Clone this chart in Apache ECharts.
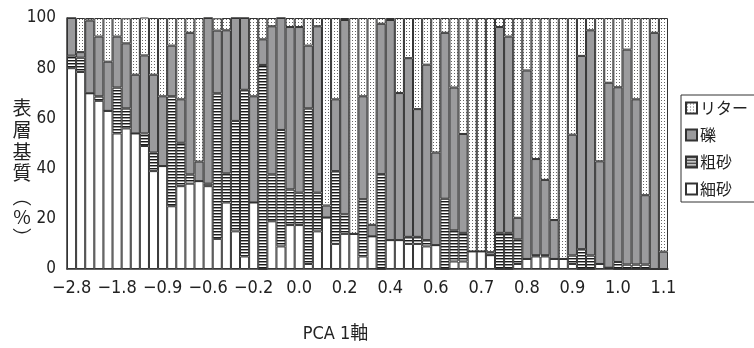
<!DOCTYPE html>
<html>
<head>
<meta charset="utf-8">
<script src="https://cdn.jsdelivr.net/npm/echarts@6/dist/echarts.min.js"></script>
<style>
html,body{margin:0;padding:0;background:#fff;}
#chart{width:754px;height:348px;}
</style>
</head>
<body>
<div id="chart"></div>
<script>
// tick labels shown every 5th sample (PCA axis 1 score)
const tickLabels = ['\u22122.8','\u22121.8','\u22120.9','\u22120.6','\u22120.2','0.0','0.2','0.4','0.6','0.7','0.8','0.9','1.0','1.1'];
const tickStep = 5;

// 細砂 (fine sand, %)
const fineSand = [80,78.5,70,67,63,54,56,54,49,39,41,25,33,34,35,33,12,26.5,15,5,
  26.5,0,19,9,17.5,17.5,2,15,20.5,10,14,14,5,13,0,11.5,11.5,10,10,9,
  9.5,0,3,3,7,7,5.5,0,0,2,4,5,5,4,4,2,0,0,2,0.5,
  0,0,0,0,0,0];
// 粗砂 (coarse sand, %)
const coarseSand = [5,5.7,0,1.8,0,18.3,8,0,5,7.4,0,43.8,17.3,3.7,0,1,58,11.6,44,66.4,
  0,81.3,18.7,46.4,14.2,12.9,62,15.4,0,29,7.8,0,22.8,0,37.8,0,0,2.8,2.8,2.5,
  0,28,12.4,11.4,0,0,0,14.4,14.4,9.8,0,0.5,0.5,0,0,3.4,7.9,5.4,0,0,
  2.8,1.8,1.8,1.8,0,0];
// 礫 (gravel, %)
const gravel = [15,2.2,29,23.8,19.6,20.3,25.9,23.4,31.1,31,27.8,20.2,17.3,56.4,7.8,66,25,57,41,28.6,
  42.3,10.2,59,44.6,64.7,66,25,66.3,4.8,28.6,77.4,0,41,4.6,59.9,87.7,58.6,71.2,50.9,69.9,
  36.9,66.1,56.9,39.4,0,0,1.2,82,78.2,8.6,75.1,38.3,30,15.5,0,48.1,77,89.7,40.9,73.7,
  69.6,85.6,65.8,27.6,94.1,6.9];
// リター (litter, %)
const litter = [0,13.6,1,7.4,17.4,7.4,10,22.6,15.1,22.6,31.2,11,32.4,5.9,57.2,0,4.9,4.9,0,0,
  31.2,8.5,3.3,0,3.6,3.6,11,3.3,74.7,32.4,0.8,86,31.2,82.4,2.3,0.8,29.9,16,36.3,18.6,
  53.6,5.9,27.7,46.2,93,93,93.3,3.6,7.4,79.6,20.9,56.2,64.5,80.5,96,46.5,15.1,4.9,57.1,25.8,
  27.6,12.6,32.4,70.6,5.9,93.1];

const samples = fineSand.map((_, i) => String(i + 1));

function pattern(kind) {
  const c = document.createElement('canvas');
  const ctx = c.getContext('2d');
  if (kind === 'hatch') {
    c.width = 4; c.height = 3;
    ctx.fillStyle = '#fff'; ctx.fillRect(0, 0, 4, 3);
    ctx.fillStyle = '#1a1a1a'; ctx.fillRect(0, 0, 4, 1);
    ctx.fillStyle = '#999'; ctx.fillRect(0, 1, 4, 1);
  } else {
    c.width = 3; c.height = 3;
    ctx.fillStyle = '#fff'; ctx.fillRect(0, 0, 3, 3);
    ctx.fillStyle = '#666'; ctx.fillRect(1, 1, 1, 1);
  }
  return { image: c, repeat: 'repeat' };
}

const border = { borderColor: '#333', borderWidth: 1 };
const mk = (name, data, color) => ({
  name, type: 'bar', stack: 'all', data,
  barCategoryGap: '0%',
  itemStyle: Object.assign({ color }, border),
  emphasis: { disabled: true }
});

const condensed = '"Liberation Sans Narrow", "DejaVu Sans Condensed", sans-serif';
const chart = echarts.init(document.getElementById('chart'), null, { renderer: 'canvas' });
const yTitle = [['表',108],['層',130],['基',152],['質',173],['︵',197],['%',217],['︶',238]];
chart.setOption({
  animation: false,
  backgroundColor: '#fff',
  grid: { left: 67, right: 86, top: 18, bottom: 70 },
  legend: {
    orient: 'vertical', left: 681, top: 95,
    data: ['リター', '礫', '粗砂', '細砂'],
    icon: 'rect', itemWidth: 11, itemHeight: 11, itemGap: 11,
    borderColor: '#333', borderWidth: 1, borderRadius: 0,
    padding: [5, 10, 5, 4],
    textStyle: { fontSize: 16, color: '#222', fontFamily: '"Noto Sans CJK JP", sans-serif', padding: [0, 0, 0, -2] }
  },
  xAxis: {
    type: 'category', data: samples,
    name: 'PCA 1軸', nameLocation: 'middle', nameGap: 56,
    nameTextStyle: { fontSize: 18, color: '#222', fontFamily: '"DejaVu Sans Condensed", "Noto Sans CJK JP", sans-serif', padding: [0, 64, 0, 0] },
    axisLine: { lineStyle: { color: '#333', width: 1.5 } },
    axisTick: { show: false },
    axisLabel: {
      interval: tickStep - 1, margin: 10, fontSize: 18, color: '#222',
      fontFamily: condensed,
      formatter: (v, i) => tickLabels[Math.round(i / tickStep)] || ''
    }
  },
  yAxis: {
    type: 'value', min: 0, max: 100, interval: 20,
    axisLine: { show: true, lineStyle: { color: '#333', width: 1.5 } },
    axisTick: { show: false },
    splitLine: { show: false },
    axisLabel: { fontSize: 17, color: '#222', margin: 11, fontFamily: condensed }
  },
  graphic: yTitle.map(([t, y]) => ({
    type: 'text', x: 22, y,
    style: { text: t, fontSize: 19, fill: '#222', fontFamily: '"Noto Sans CJK JP", sans-serif', textAlign: 'center', textVerticalAlign: 'middle' }
  })),
  series: [
    mk('細砂', fineSand, '#ffffff'),
    mk('粗砂', coarseSand, pattern('hatch')),
    mk('礫', gravel, '#9b9b9d'),
    mk('リター', litter, pattern('dots'))
  ]
});
</script>
</body>
</html>
